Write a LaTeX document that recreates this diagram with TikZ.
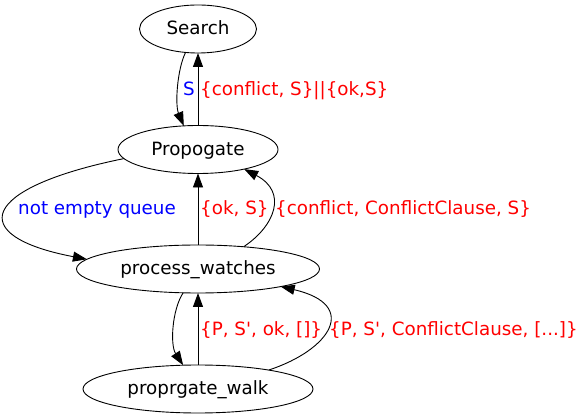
\documentclass[tikz,border=0pt]{standalone}
\usepackage{fontspec}
\setmainfont{DejaVu Sans}
\usetikzlibrary{shapes.geometric,arrows.meta}
\begin{document}
\begin{tikzpicture}[x=1pt,y=-1pt,
  state/.style={ellipse,draw,line width=0.9pt,inner sep=0pt,outer sep=0pt,
    minimum height=48pt,text height=16pt,text depth=4pt,
    font=\fontsize{18.3}{20}\selectfont},
  edge/.style={line width=0.9pt,-{Triangle[length=14pt,width=10pt]}},
  lbl/.style={anchor=base west,inner sep=0pt,font=\fontsize{18.3}{20}\selectfont},
  redlbl/.style={lbl,text=red},
  bluelbl/.style={lbl,text=blue}]
\useasboundingbox (0,0) rectangle (584,419);
\node[state,minimum width=117pt] (search) at (198,29) {Search};
\node[state,minimum width=160pt] (prop) at (198,149.5) {Propogate};
\node[state,minimum width=243pt] (pw) at (198,269) {process\_watches};
\node[state,minimum width=230pt] (walk) at (198,389) {proprgate\_walk};

\draw[edge] (search.242) .. controls (177,70) and (175,105) .. (prop.121);
\draw[edge] (prop.north) -- (search.south);
\draw[edge] (prop.187) .. controls (-21,188) and (-35,236) .. (pw.175);
\draw[edge] (pw.north) -- (prop.south);
\draw[edge] (pw.26) .. controls (275,226) and (288,192) .. (prop.-23);
\draw[edge] (pw.238) .. controls (172,310) and (170,345) .. (walk.122);
\draw[edge] (walk.north) -- (pw.south);
\draw[edge] (walk.15) .. controls (330,350) and (360,305) .. (pw.-12);

\node[bluelbl] (lS) at (183,96) {S};
\node[redlbl] (l1) at (200,96) {\{conflict, S\}||\{ok,S\}};
\node[bluelbl] (l2) at (18,215) {not empty queue};
\node[redlbl] (l3) at (200,215) {\{ok, S\}};
\node[redlbl] (l4) at (275,215) {\{conflict, ConflictClause, S\}};
\node[redlbl] (l5) at (200,336) {\{P, S\textquotesingle, ok, []\}};
\node[redlbl] (l6) at (329,336) {\{P, S\textquotesingle, ConflictClause, [...]\}};
\end{tikzpicture}
\end{document}
